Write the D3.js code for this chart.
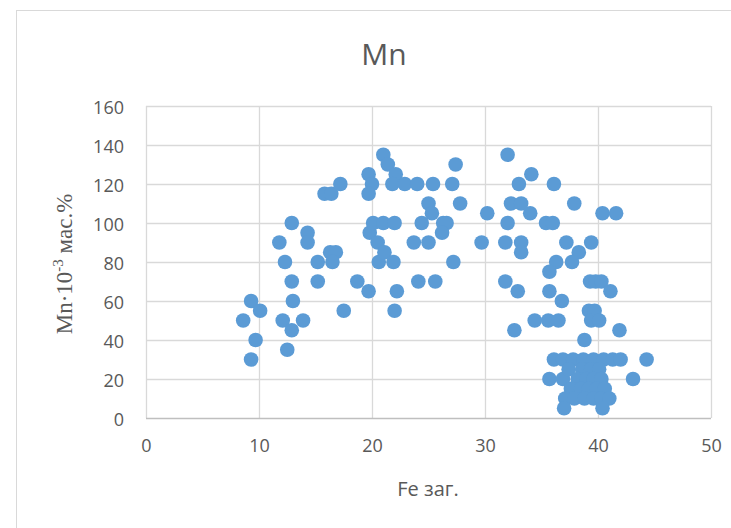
<!DOCTYPE html>
<html>
<head>
<meta charset="utf-8">
<script src="https://cdn.jsdelivr.net/npm/d3@7"></script>
<style>
  html, body { margin: 0; padding: 0; background: #ffffff; }
  svg { display: block; }
</style>
</head>
<body>
<svg id="chart" width="731" height="528"></svg>
<script>
// Fe заг. (x) values
const feValues = [
  8.6, 9.3, 10.1, 9.7, 9.3,
  11.8, 12.9, 12.3, 12.9, 13.0, 12.1, 12.9, 13.9, 12.5,
  14.3, 14.3, 15.2, 15.2,
  15.8, 16.4, 17.2, 16.3, 16.8, 16.5, 17.5,
  18.7,
  19.7, 20.0, 19.7, 19.7, 19.8, 20.1, 20.5, 20.6, 21.0, 21.1, 22.0, 21.9,
  21.0, 21.4, 22.1, 21.8, 22.9, 24.0, 25.4, 27.1, 27.4, 27.8,
  25.0, 25.3, 24.4, 23.7, 25.0, 26.3, 26.6, 26.2, 27.2, 24.1, 25.6, 22.2, 22.0,
  30.2, 29.7,
  32.0, 32.3, 33.2, 32.0, 31.8, 31.8, 32.6,
  34.1, 33.0, 34.0, 36.1, 37.9, 40.4, 41.6,
  35.4, 36.0, 33.2, 33.2, 37.2, 39.4, 38.3, 36.3, 37.7, 35.7,
  32.9, 35.7, 36.8, 39.3, 39.8, 40.3, 41.1,
  34.4, 35.6, 36.5, 39.2, 39.7, 39.4, 40.1, 41.9, 38.8,
  36.1, 36.9, 37.8, 38.7, 39.6, 40.5, 41.3, 42.0, 44.3,
  35.7, 36.9, 43.1,
  37.4, 38.6, 39.4, 40.1, 38.2, 39.0, 39.6, 40.3, 37.6, 38.5, 39.2, 39.9, 40.6,
  37.1, 37.9, 38.8, 39.6, 40.3, 41.0, 37.0, 40.4
];
// Mn·10^-3 мас.% (y) values
const mnValues = [
  50, 60, 55, 40, 30,
  90, 100, 80, 70, 60, 50, 45, 50, 35,
  95, 90, 80, 70,
  115, 115, 120, 85, 85, 80, 55,
  70,
  125, 120, 115, 65, 95, 100, 90, 80, 100, 85, 100, 80,
  135, 130, 125, 120, 120, 120, 120, 120, 130, 110,
  110, 105, 100, 90, 90, 100, 100, 95, 80, 70, 70, 65, 55,
  105, 90,
  135, 110, 110, 100, 90, 70, 45,
  125, 120, 105, 120, 110, 105, 105,
  100, 100, 90, 85, 90, 90, 85, 80, 80, 75,
  65, 65, 60, 70, 70, 70, 65,
  50, 50, 50, 55, 55, 50, 50, 45, 40,
  30, 30, 30, 30, 30, 30, 30, 30, 30,
  20, 20, 20,
  25, 25, 25, 25, 20, 20, 20, 20, 15, 15, 15, 15, 15,
  10, 10, 10, 10, 10, 10, 5, 5
];
const xTicks = [0, 10, 20, 30, 40, 50];
const yTicks = [0, 20, 40, 60, 80, 100, 120, 140, 160];
const chartTitle = "Mn";
const xTitle = "Fe заг.";

const svg = d3.select("#chart");
const W = 731, H = 528;
const plot = { left: 146, right: 711, top: 106, bottom: 418 };

// outer chart border
svg.append("rect")
  .attr("x", 16.5).attr("y", 10.5)
  .attr("width", 900).attr("height", 700)
  .attr("fill", "#ffffff").attr("stroke", "#d9d9d9").attr("stroke-width", 1);

const x = d3.scaleLinear().domain([0, 50]).range([plot.left, plot.right]);
const y = d3.scaleLinear().domain([0, 160]).range([plot.bottom, plot.top]);

// gridlines
const gridG = svg.append("g");
gridG.selectAll("line.h").data(yTicks.filter(d => d > 0)).join("line")
  .attr("x1", plot.left).attr("x2", plot.right)
  .attr("y1", d => Math.round(y(d)) + 0.5).attr("y2", d => Math.round(y(d)) + 0.5)
  .attr("stroke", "#d9d9d9").attr("stroke-width", 1.3);
gridG.selectAll("line.v").data(xTicks).join("line")
  .attr("y1", plot.top).attr("y2", plot.bottom)
  .attr("x1", d => Math.round(x(d)) + 0.5).attr("x2", d => Math.round(x(d)) + 0.5)
  .attr("stroke", "#d9d9d9").attr("stroke-width", 1.3);

// x axis line
svg.append("line")
  .attr("x1", plot.left).attr("x2", plot.right)
  .attr("y1", Math.round(y(0)) + 0.5).attr("y2", Math.round(y(0)) + 0.5)
  .attr("stroke", "#bfbfbf").attr("stroke-width", 1.5);

// axes labels via d3 axes (no domain/ticks lines)
const xAxis = d3.axisBottom(x).tickValues(xTicks).tickSize(0).tickPadding(0);
const xg = svg.append("g").attr("transform", `translate(0, ${plot.bottom})`).call(xAxis);
xg.select(".domain").remove();
xg.selectAll("text")
  .attr("y", 34).attr("dy", 0)
  .attr("fill", "#595959")
  .style("font-family", "'Open Sans', sans-serif")
  .style("font-size", "18px");

const yAxis = d3.axisLeft(y).tickValues(yTicks).tickSize(0).tickPadding(0);
const yg = svg.append("g").attr("transform", `translate(124, 0)`).call(yAxis);
yg.select(".domain").remove();
yg.selectAll("text")
  .attr("x", 0).attr("dy", "0.42em")
  .attr("fill", "#595959")
  .style("font-family", "'Open Sans', sans-serif")
  .style("font-size", "18px");

// points
svg.append("g").selectAll("circle")
  .data(feValues.map((v, i) => [v, mnValues[i]]))
  .join("circle")
  .attr("cx", d => x(d[0]))
  .attr("cy", d => y(d[1]))
  .attr("r", 7.3)
  .attr("fill", "#5b9bd5");

// title
svg.append("text")
  .attr("x", 384).attr("y", 65)
  .attr("text-anchor", "middle")
  .attr("fill", "#595959")
  .style("font-family", "'Open Sans', sans-serif")
  .style("font-size", "30px")
  .text(chartTitle);

// x title
svg.append("text")
  .attr("x", 428).attr("y", 496)
  .attr("text-anchor", "middle")
  .attr("fill", "#595959")
  .style("font-family", "'Open Sans', sans-serif")
  .style("font-size", "20px")
  .text(xTitle);

// y title (serif, with superscript)
const yt = svg.append("text")
  .attr("transform", "translate(72, 264) rotate(-90)")
  .attr("text-anchor", "middle")
  .attr("fill", "#595959")
  .style("font-family", "'Liberation Serif', 'DejaVu Serif', serif")
  .style("font-size", "23px");
yt.append("tspan").text("Mn·10");
yt.append("tspan").attr("dy", -9).style("font-size", "15px").text("-3");
yt.append("tspan").attr("dy", 9).text(" мас.%");
</script>
</body>
</html>
